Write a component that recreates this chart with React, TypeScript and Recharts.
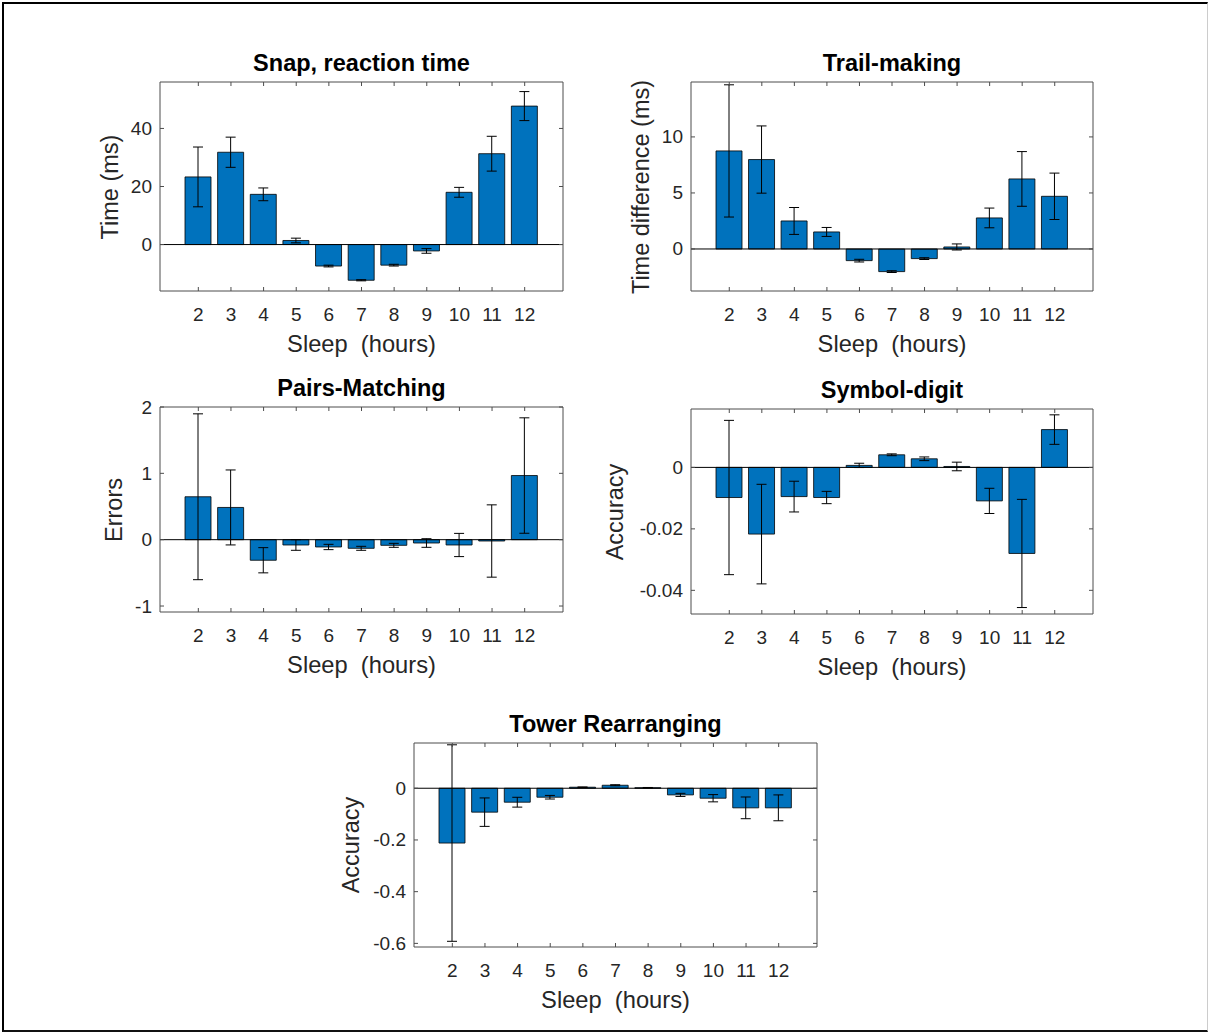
import React from "react"
import { BarChart, Bar, XAxis, YAxis, ErrorBar, ReferenceLine } from "recharts"

// sleep duration categories (hours)
const hours = [2, 3, 4, 5, 6, 7, 8, 9, 10, 11, 12]

// Snap, reaction time (ms)
const snapMean = [23.3, 31.8, 17.3, 1.4, -7.4, -12.3, -7.1, -2.2, 18.0, 31.3, 47.7]
const snapErr = [10.3, 5.2, 2.2, 0.8, 0.3, 0.2, 0.3, 0.8, 1.7, 6.0, 5.0]
const snapTicks = [0, 20, 40]

// Trail-making (ms)
const trailMean = [8.75, 7.98, 2.5, 1.52, -1.04, -2.02, -0.86, 0.18, 2.77, 6.25, 4.7]
const trailErr = [5.9, 3.0, 1.2, 0.4, 0.12, 0.08, 0.08, 0.27, 0.88, 2.44, 2.07]
const trailTicks = [0, 5, 10]

// Pairs-Matching (errors)
const pairsMean = [0.647, 0.486, -0.31, -0.08, -0.11, -0.13, -0.085, -0.05, -0.08, -0.02, 0.967]
const pairsErr = [1.25, 0.565, 0.19, 0.08, 0.04, 0.03, 0.03, 0.065, 0.175, 0.545, 0.87]
const pairsTicks = [-1, 0, 1, 2]

// Symbol-digit (accuracy)
const symbolMean = [-0.0098, -0.0217, -0.0095, -0.0098, 0.00065, 0.0041, 0.0028, 0.0003, -0.0109, -0.028, 0.0123]
const symbolErr = [0.0251, 0.0162, 0.005, 0.002, 0.0007, 0.0003, 0.0006, 0.0014, 0.0041, 0.0176, 0.0048]
const symbolTicks = [-0.04, -0.02, 0]

// Tower Rearranging (accuracy)
const towerMean = [-0.212, -0.0925, -0.054, -0.0347, 0.004, 0.0116, 0.002, -0.0257, -0.0386, -0.0758, -0.0758]
const towerErr = [0.38, 0.055, 0.019, 0.007, 0.001, 0.002, 0.001, 0.006, 0.014, 0.042, 0.05]
const towerTicks = [-0.6, -0.4, -0.2, 0]

const FONT = '"Liberation Sans", Arial, Helvetica, sans-serif'
const TEXT = "#262626"
const BOX = "#4d4d4d"
const BLUE = "#0072BD"

// space around the axes box inside each chart
const ML = 100
const MT = 10
const MR = 20
const MB = 40

const toRows = (mean: number[], err: number[]) =>
  hours.map((h, i) => ({ h: String(h), v: mean[i], e: err[i] }))

interface PanelProps {
  title: string
  ylabel: string
  mean: number[]
  err: number[]
  ticks: number[]
  domain: [number, number]
  box: { L: number; T: number; R: number; B: number }
  ylabelX: number
}

function Panel({ title, ylabel, mean, err, ticks, domain, box, ylabelX }: PanelProps) {
  const w = box.R - box.L
  const h = box.B - box.T
  const pl = ML
  const pr = ML + w
  const pt = MT
  const pb = MT + h
  const rows = toRows(mean, err)
  const cx = (box.L + box.R) / 2
  const cy = (box.T + box.B) / 2

  const XTick = (props: any) => {
    const { x, payload } = props
    return (
      <g>
        <line x1={x} x2={x} y1={pb} y2={pb - 4} stroke={BOX} />
        <line x1={x} x2={x} y1={pt} y2={pt + 4} stroke={BOX} />
        <text x={x} y={pb + 23} textAnchor="middle" dominantBaseline="central" fill={TEXT} fontSize={19} fontFamily={FONT}>
          {payload.value}
        </text>
      </g>
    )
  }

  const YTick = (props: any) => {
    const { y, payload } = props
    return (
      <g>
        <line x1={pl} x2={pl + 4} y1={y} y2={y} stroke={BOX} />
        <line x1={pr} x2={pr - 4} y1={y} y2={y} stroke={BOX} />
        <text x={pl - 8} y={y} textAnchor="end" dominantBaseline="central" fill={TEXT} fontSize={19} fontFamily={FONT}>
          {String(payload.value)}
        </text>
      </g>
    )
  }

  return (
    <>
      <div
        style={{
          position: "absolute",
          left: cx,
          top: box.T - 18,
          transform: "translate(-50%, -50%)",
          fontFamily: FONT,
          fontWeight: "bold",
          fontSize: 23.5,
          color: "#000",
          whiteSpace: "pre",
          lineHeight: 1,
        }}
      >
        {title}
      </div>
      <div
        style={{
          position: "absolute",
          left: cx,
          top: box.B + 54,
          transform: "translate(-50%, -50%)",
          fontFamily: FONT,
          fontSize: 23.7,
          color: TEXT,
          whiteSpace: "pre",
          lineHeight: 1,
        }}
      >
        {"Sleep  (hours)"}
      </div>
      <div
        style={{
          position: "absolute",
          left: ylabelX,
          top: cy,
          transform: "translate(-50%, -50%) rotate(-90deg)",
          fontFamily: FONT,
          fontSize: 23.5,
          color: TEXT,
          whiteSpace: "pre",
          lineHeight: 1,
        }}
      >
        {ylabel}
      </div>
      <div style={{ position: "absolute", left: box.L - ML, top: box.T - MT }}>
        <BarChart
          width={w + ML + MR}
          height={h + MT + MB}
          data={rows}
          margin={{ top: MT - 1, left: ML - 1, right: MR - 1, bottom: MB - 1 }}
          barSize={26}
        >
          <XAxis
            dataKey="h"
            height={1}
            padding={{ left: 22, right: 22 }}
            axisLine={{ stroke: BOX }}
            tickLine={false}
            tick={<XTick />}
            interval={0}
          />
          <XAxis
            xAxisId="top"
            dataKey="h"
            orientation="top"
            height={1}
            padding={{ left: 22, right: 22 }}
            axisLine={{ stroke: BOX }}
            tickLine={false}
            tick={false}
          />
          <YAxis
            type="number"
            domain={domain}
            ticks={ticks}
            width={1}
            allowDataOverflow
            axisLine={{ stroke: BOX }}
            tickLine={false}
            tick={<YTick />}
          />
          <YAxis
            yAxisId="right"
            orientation="right"
            type="number"
            domain={domain}
            width={1}
            allowDataOverflow
            axisLine={{ stroke: BOX }}
            tickLine={false}
            tick={false}
          />
          <Bar dataKey="v" fill={BLUE} stroke="#000" strokeWidth={0.8} isAnimationActive={false}>
            <ErrorBar dataKey="e" direction="y" width={5} stroke="#000" strokeWidth={1} />
          </Bar>
          <ReferenceLine y={0} stroke="#000" strokeWidth={1} />
        </BarChart>
      </div>
    </>
  )
}

export default function App() {
  return (
    <div style={{ position: "absolute", left: 0, top: 0, width: 1208, height: 1032, background: "#fff" }}>
      <div
        style={{
          position: "absolute",
          left: 2,
          top: 2,
          width: 1203,
          height: 1026,
          borderLeft: "2.5px solid #000",
          borderTop: "2.5px solid #000",
          borderBottom: "2.5px solid #111",
          borderRight: "1px solid #ccc",
        }}
      />
      <Panel
        title="Snap, reaction time"
        ylabel="Time (ms)"
        mean={snapMean}
        err={snapErr}
        ticks={snapTicks}
        domain={[-16, 56]}
        box={{ L: 160, T: 82, R: 563, B: 291 }}
        ylabelX={111}
      />
      <Panel
        title="Trail-making"
        ylabel="Time difference (ms)"
        mean={trailMean}
        err={trailErr}
        ticks={trailTicks}
        domain={[-3.75, 14.9]}
        box={{ L: 691, T: 82, R: 1093, B: 291 }}
        ylabelX={642}
      />
      <Panel
        title="Pairs-Matching"
        ylabel="Errors"
        mean={pairsMean}
        err={pairsErr}
        ticks={pairsTicks}
        domain={[-1.09, 2]}
        box={{ L: 160, T: 407, R: 563, B: 612 }}
        ylabelX={115}
      />
      <Panel
        title="Symbol-digit"
        ylabel="Accuracy"
        mean={symbolMean}
        err={symbolErr}
        ticks={symbolTicks}
        domain={[-0.0477, 0.019]}
        box={{ L: 691, T: 409, R: 1093, B: 614 }}
        ylabelX={616}
      />
      <Panel
        title="Tower Rearranging"
        ylabel="Accuracy"
        mean={towerMean}
        err={towerErr}
        ticks={towerTicks}
        domain={[-0.614, 0.175]}
        box={{ L: 414, T: 743, R: 817, B: 947 }}
        ylabelX={352}
      />
    </div>
  )
}
